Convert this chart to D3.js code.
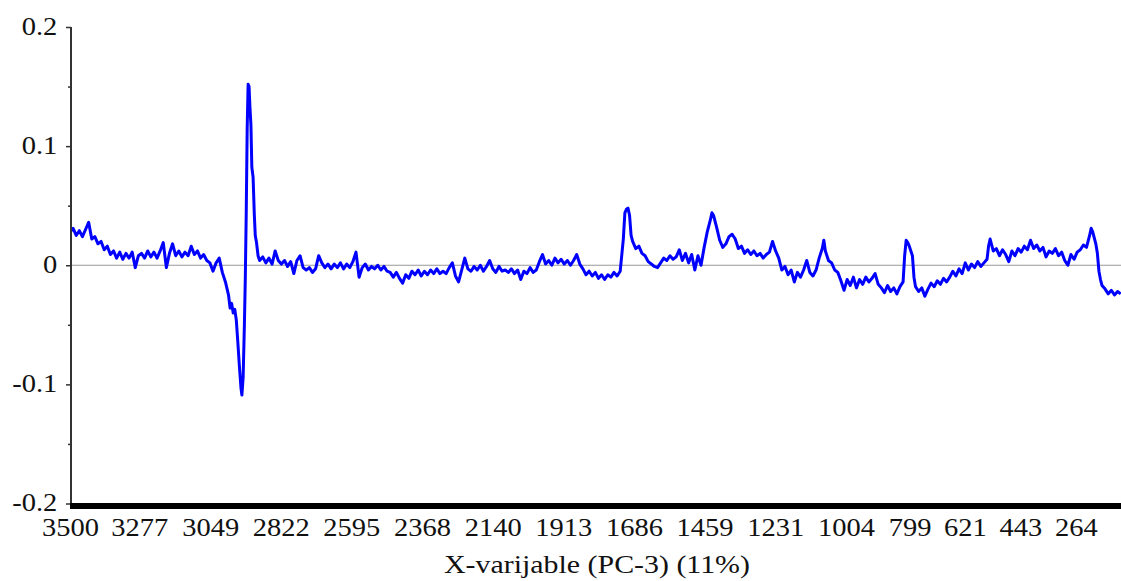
<!DOCTYPE html>
<html><head><meta charset="utf-8">
<script src="https://cdn.jsdelivr.net/npm/d3@7"></script>
<style>body{margin:0;background:#fff} svg{display:block}</style>
</head><body>
<svg id="chart" width="1121" height="581"></svg>
<script>
const wavenumbers = [
3500,3490,3480,3470,3460,3450,3440,3430,3420,3410,3400,3390,3380,3370,3360,3350,3340,3330,3320,3310,
3300,3290,3280,3270,3260,3250,3240,3230,3220,3210,3200,3190,3180,3170,3160,3150,3140,3130,3120,3110,
3100,3090,3080,3070,3060,3050,3040,3030,3020,3010,3000,2990,2985,2980,2975,2970,2965,2960,2955,2950,
2947,2943,2939,2936,2933,2930,2927,2924,2921,2918,2915,2911,2907,2904,2900,2895,2890,
2880,2870,2860,2850,2840,2830,2820,2810,2800,2790,2780,2770,2760,2750,2740,2730,2720,2710,2700,
2690,2680,2670,2660,2650,2640,2630,2620,2610,2600,2590,2580,2570,2560,2550,2540,2530,2520,2510,2500,
2490,2480,2470,2460,2450,2440,2430,2420,2410,2400,2390,2380,2370,2360,2350,2340,2330,2320,2310,2300,
2290,2280,2270,2260,2250,2240,2230,2220,2210,2200,2190,2180,2170,2160,2150,2140,2130,2120,2110,2100,
2090,2080,2070,2060,2050,2040,2030,2020,2010,2000,1990,1980,1970,1960,1950,1940,1930,1920,1910,1900,
1890,1880,1870,1860,1850,1840,1830,1820,1810,1800,1790,1780,1770,1760,1750,1740,1730,
1720,1715,1710,1705,1700,1695,1690,
1680,1670,1660,1650,1640,1630,1620,1610,1600,1590,1580,1570,1560,1550,1540,1530,1520,1510,1500,
1490,1480,1470,1460,1450,1440,1435,1430,1420,1410,1400,1390,1380,1370,1360,1350,1340,1330,1320,1310,
1300,1290,1280,1270,1260,1250,1240,1230,1220,1210,1200,1190,1180,1170,1160,1150,1140,1130,1120,1110,
1100,1090,1080,1075,1070,1060,1050,1040,1030,1020,1010,1000,990,980,970,960,950,940,930,920,
910,900,890,880,870,860,850,840,830,820,815,810,805,800,795,790,785,780,770,760,
750,740,730,720,710,700,690,680,670,660,650,640,630,620,610,600,590,580,570,560,
550,545,540,530,520,510,500,490,480,470,460,450,440,430,420,410,400,390,380,370,
360,350,340,330,320,310,300,290,280,270,260,250,240,230,220,215,210,200,195,190,
185,180,170,160,150,140,130,120
];
const loadings = [
0.028,0.031,0.025,0.029,0.024,0.030,0.036,0.022,0.024,0.018,0.020,0.013,0.016,0.009,0.012,0.006,0.011,0.005,0.010,0.006,
0.011,-0.002,0.008,0.010,0.006,0.012,0.007,0.011,0.006,0.012,0.019,-0.002,0.010,0.018,0.008,0.012,0.007,0.011,0.008,0.016,
0.009,0.012,0.006,0.009,0.004,0.002,-0.005,0.002,0.006,-0.006,-0.014,-0.025,-0.036,-0.032,-0.040,-0.037,-0.046,-0.065,-0.085,-0.103,
-0.109,-0.094,-0.050,-0.010,0.045,0.115,0.152,0.150,0.132,0.118,0.082,0.074,0.042,0.025,0.019,0.008,0.004,
0.007,0.002,0.006,0.001,0.012,0.004,0.001,0.004,-0.001,0.003,-0.007,0.004,0.008,-0.002,-0.004,-0.002,-0.006,-0.003,0.008,
0.002,-0.002,0.001,-0.003,0.001,-0.002,0.002,-0.003,0.001,-0.002,0.003,0.011,-0.010,-0.002,0.001,-0.004,-0.001,-0.003,0.000,-0.004,
-0.001,-0.005,-0.006,-0.010,-0.006,-0.011,-0.015,-0.008,-0.011,-0.005,-0.008,-0.004,-0.009,-0.005,-0.008,-0.004,-0.007,-0.003,-0.007,-0.005,
-0.007,-0.002,0.002,-0.009,-0.014,-0.004,0.006,-0.003,-0.005,-0.001,-0.004,0.000,-0.005,-0.001,0.004,-0.003,-0.006,-0.001,-0.005,-0.004,
-0.006,-0.003,-0.007,-0.004,-0.012,-0.005,-0.007,-0.002,-0.006,-0.004,0.003,0.009,0.001,0.004,0.000,0.006,0.002,0.005,0.001,0.004,
0.000,0.004,0.009,0.001,-0.003,-0.008,-0.005,-0.009,-0.006,-0.011,-0.008,-0.012,-0.008,-0.010,-0.006,-0.009,-0.005,
0.022,0.044,0.047,0.048,0.042,0.025,0.020,
0.014,0.016,0.010,0.008,0.003,0.001,-0.001,-0.002,0.002,0.006,0.004,0.008,0.005,0.007,0.013,0.004,0.010,0.002,0.009,
-0.004,0.008,0.000,0.015,0.028,0.038,0.044,0.042,0.032,0.021,0.015,0.018,0.024,0.026,0.022,0.014,0.016,0.010,0.013,0.009,
0.012,0.008,0.010,0.006,0.009,0.011,0.020,0.012,0.006,-0.004,-0.001,-0.008,-0.004,-0.014,-0.006,-0.010,-0.004,0.004,-0.006,-0.009,
-0.004,0.006,0.014,0.021,0.012,0.004,0.002,-0.004,-0.006,-0.013,-0.021,-0.012,-0.017,-0.010,-0.019,-0.012,-0.016,-0.010,-0.014,-0.011,
-0.007,-0.016,-0.019,-0.023,-0.017,-0.022,-0.019,-0.024,-0.018,-0.014,0.008,0.021,0.019,0.016,0.012,0.008,-0.010,-0.018,-0.022,-0.019,
-0.026,-0.020,-0.015,-0.018,-0.013,-0.016,-0.011,-0.014,-0.010,-0.005,-0.009,-0.003,-0.007,0.002,-0.004,0.001,-0.002,0.003,-0.001,0.002,
0.005,0.016,0.022,0.012,0.014,0.008,0.013,0.009,0.003,0.012,0.008,0.014,0.011,0.016,0.013,0.021,0.014,0.017,0.012,0.015,
0.007,0.012,0.010,0.014,0.008,0.011,0.004,0.000,0.009,0.005,0.011,0.013,0.017,0.015,0.025,0.031,0.028,0.018,0.010,-0.005,
-0.012,-0.017,-0.020,-0.024,-0.021,-0.025,-0.022,-0.024
];
const xTickValues = [3500,3277,3049,2822,2595,2368,2140,1913,1686,1459,1231,1004,799,621,443,264];
const yTickValues = [0.2,0.1,0,-0.1,-0.2];
const yMinorTickValues = [0.15,0.05,-0.05,-0.15];
const xTitle = "X-varijable (PC-3) (11%)";

const svg = d3.select("#chart");
const plotLeft = 71, plotRight = 1121, plotTop = 27, plotBottom = 503.5;
const x = d3.scaleLinear().domain([3500, 119]).range([70, plotRight]);
const y = d3.scaleLinear().domain([-0.2, 0.2]).range([plotBottom, plotTop]);
const font = "'Liberation Serif','Times New Roman',serif";

svg.append("defs").append("clipPath").attr("id","clip")
  .append("rect").attr("x",plotLeft).attr("y",0).attr("width",plotRight-plotLeft).attr("height",plotBottom);

// zero line
svg.append("line").attr("x1",plotLeft).attr("x2",plotRight).attr("y1",y(0)).attr("y2",y(0))
  .attr("stroke","#999").attr("stroke-width",1.2);

// data line
const line = d3.line().x((d,i)=>x(wavenumbers[i])).y(d=>y(d));
svg.append("path").datum(loadings).attr("clip-path","url(#clip)")
  .attr("d",line).attr("fill","none").attr("stroke","#0000ff")
  .attr("stroke-width",3).attr("stroke-linejoin","round");

// y axis
const yAxis = svg.append("g").attr("transform",`translate(${plotLeft},0)`)
  .call(d3.axisLeft(y).tickValues(yTickValues).tickSize(5).tickPadding(7)
    .tickFormat(d => d === 0 ? "0" : String(d)));
yAxis.select(".domain").attr("stroke","#333").attr("stroke-width",2).attr("d",`M0,${plotTop}V${plotBottom}`);
yAxis.selectAll(".tick line").attr("stroke","#333").attr("stroke-width",1.5);
yAxis.selectAll(".tick text").attr("font-family",font).attr("font-size",25).attr("fill","#111")
  .attr("dy","0.29em").attr("transform","scale(1.14,1)");
const yMinor = svg.append("g").attr("transform",`translate(${plotLeft},0)`)
  .call(d3.axisLeft(y).tickValues(yMinorTickValues).tickSize(3).tickFormat(""));
yMinor.select(".domain").remove();
yMinor.selectAll(".tick line").attr("stroke","#333").attr("stroke-width",1.5);

// x axis
const xAxis = svg.append("g").attr("transform",`translate(0,${plotBottom})`)
  .call(d3.axisBottom(x).tickValues(xTickValues).tickSize(0).tickPadding(15)
    .tickFormat(d => String(d)));
xAxis.select(".domain").remove();
xAxis.selectAll(".tick text").attr("font-family",font).attr("font-size",25).attr("fill","#111")
  .attr("transform","scale(1.14,1)");
svg.append("rect").attr("x",70).attr("y",plotBottom-0.5).attr("width",plotRight-70).attr("height",6).attr("fill","#000");

// title
svg.append("text").attr("x",0).attr("y",573)
  .attr("transform",`translate(597,0) scale(1.15,1)`)
  .attr("text-anchor","middle").attr("font-family",font).attr("font-size",26).attr("fill","#111")
  .text(xTitle);
</script>
</body></html>
